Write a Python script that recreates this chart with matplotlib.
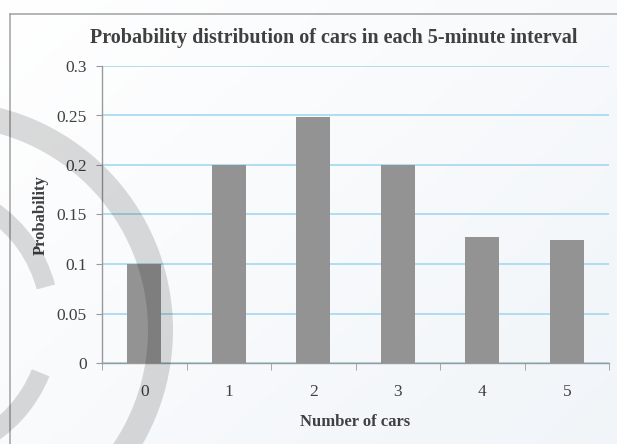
import matplotlib
matplotlib.use('Agg')
import matplotlib.pyplot as plt
import numpy as np
from matplotlib.patches import Wedge

categories = ['0', '1', '2', '3', '4', '5']
probabilities = [0.1, 0.2, 0.248, 0.2, 0.127, 0.124]
yticks = [0, 0.05, 0.1, 0.15, 0.2, 0.25, 0.3]
ytick_labels = ['0', '0.05', '0.1', '0.15', '0.2', '0.25', '0.3']
title = 'Probability distribution of cars in each 5-minute interval'
xlabel = 'Number of cars'
ylabel = 'Probability'

plt.rcParams['font.family'] = ['Liberation Serif', 'DejaVu Serif']

W, H = 617, 444
fig = plt.figure(figsize=(W / 100, H / 100), dpi=100)

# background gradient + chart border (pixel coords, y down)
bg = fig.add_axes([0, 0, 1, 1], zorder=0)
xx, yy = np.meshgrid(np.linspace(0, 1, 200), np.linspace(0, 1, 150))
t = np.clip(xx * 0.55 + yy * 0.45, 0, 1)[..., None]
c0 = np.array([1.0, 1.0, 1.0])
c1 = np.array([0.945, 0.960, 0.975])
img = c0 * (1 - t) + c1 * t
bg.imshow(img, extent=[0, W, H, 0], aspect='auto', interpolation='bilinear')
bg.set_xlim(0, W)
bg.set_ylim(H, 0)
bg.plot([9.5, 9.5], [14.5, H], color='#a8a8a8', lw=1.2)
bg.plot([9.5, W], [14.5, 14.5], color='#a8a8a8', lw=1.2)
bg.axis('off')

# main chart
ax = fig.add_axes([102 / W, 1 - 363 / H, (609 - 102) / W, (363 - 66) / H], zorder=5)
ax.set_facecolor('none')
x = np.arange(len(categories))
ax.bar(x, probabilities, width=0.4, color='#939393', zorder=3)
ax.set_xlim(-0.5, len(categories) - 0.5)
ax.set_ylim(0, 0.3)
ax.set_yticks(yticks, ytick_labels)
ax.set_xticks(x, categories)
ax.set_xticks(np.arange(-0.5, len(categories), 1), minor=True)
ax.yaxis.grid(True, color='#a9dcef', lw=1.3, zorder=1)
ax.set_axisbelow(True)
for s in ['top', 'right']:
    ax.spines[s].set_visible(False)
for s in ['left', 'bottom']:
    ax.spines[s].set_color('#9a9a9a')
    ax.spines[s].set_linewidth(1.0)
ax.tick_params(axis='y', direction='out', length=4, color='#9a9a9a', pad=7,
               labelsize=12.5, labelcolor='#404040')
ax.tick_params(axis='x', which='major', length=0, pad=15, labelsize=12.5,
               labelcolor='#404040')
ax.tick_params(axis='x', which='minor', direction='out', length=5, color='#9a9a9a')

fig.text(334 / W, 1 - 43 / H, title, ha='center', va='baseline', fontsize=14.5,
         fontweight='bold', color='#404040')
fig.text(41 / W, 1 - 215 / H, ylabel, ha='center', va='center', rotation=90,
         fontsize=12, fontweight='bold', color='#404040')
fig.text(355 / W, 1 - 426 / H, xlabel, ha='center', va='baseline', fontsize=12,
         fontweight='bold', color='#404040')

# watermark rings overlay
ov = fig.add_axes([0, 0, 1, 1], zorder=10)
ov.set_facecolor('none')
ov.set_xlim(0, W)
ov.set_ylim(H, 0)
ov.add_patch(Wedge((-56, 330), 229, 0, 360, width=25, facecolor='black',
                   alpha=0.14, edgecolor='none'))
ov.add_patch(Wedge((-85, 322), 145, 22, 345, width=19, facecolor='black',
                   alpha=0.14, edgecolor='none'))
ov.axis('off')

fig.savefig('out.png', dpi=100)
